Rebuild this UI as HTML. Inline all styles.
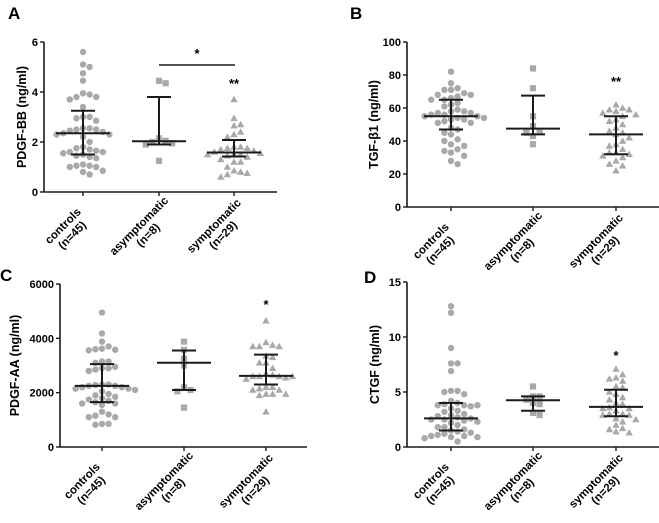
<!DOCTYPE html>
<html><head><meta charset="utf-8"><style>
html,body{margin:0;padding:0;background:#fff;}
svg{display:block;font-family:"Liberation Sans",Arial,sans-serif;}
</style></head><body>
<svg id="fig" width="659" height="523" viewBox="0 0 659 523"></svg>
<script>
// ---- data ----
const categories = ["controls", "asymptomatic", "symptomatic"];
const counts = ["(n=45)", "(n=8)", "(n=29)"];

const aControls = [5.6,5.1,5.0,4.75,4.45,3.95,3.9,3.8,3.8,3.7,3.4,3.0,3.0,2.95,2.85,2.55,2.55,2.5,2.5,2.45,2.4,2.35,2.3,2.3,2.2,2.0,1.8,1.75,1.7,1.65,1.6,1.6,1.55,1.5,1.45,1.4,1.35,1.1,1.05,1.05,1.0,1.0,0.85,0.8,0.7];
const aAsymp = [4.45,4.35,2.15,2.05,2.0,1.95,1.9,1.25];
const aSymp = [3.7,2.95,2.7,2.65,2.4,2.3,2.2,1.8,1.8,1.75,1.75,1.7,1.65,1.6,1.55,1.5,1.5,1.5,1.45,1.4,1.3,1.2,1.2,1.0,0.85,0.8,0.75,0.7,0.6];
const aMedian = [2.35,2.03,1.58];
const aQ1 = [1.5,1.9,1.42];
const aQ3 = [3.25,3.8,2.08];
const aTicks = [0,2,4,6];

const bControls = [82,75,72,71,71,69,68,68,67,66,65,65,63,62,61,59,58,58,57,57,56,56,55,55,54,54,53,53,52,51,51,48,47,45,44,41,40,38,37,35,34,33,31,28,26];
const bAsymp = [84,72,55,49,46,45,43,38];
const bSymp = [62,60,59,59,58,57,56,55,53,52,50,48,46,45,44,42,40,38,37,35,33,33,32,31,30,28,26,25,22];
const bMedian = [55,47.5,44];
const bQ1 = [47,44,32];
const bQ3 = [65,67.5,55];
const bTicks = [0,20,40,60,80,100];

const cControls = [4950,4180,3880,3700,3620,3580,3560,3600,3150,3150,3100,2950,2900,2900,2850,2800,2300,2300,2280,2250,2250,2200,2200,2150,2150,2100,2050,1950,1900,1850,1800,1750,1700,1650,1600,1600,1550,1300,1200,1150,1100,1100,850,850,820];
const cAsymp = [3880,3580,3250,3000,2200,2100,2050,1450];
const cSymp = [4650,3850,3700,3700,3700,3750,3350,3300,3100,3100,2900,2700,2650,2600,2600,2600,2600,2550,2500,2200,2200,2150,2100,2100,1950,1950,1950,1900,1300];
const cMedian = [2250,3100,2620];
const cQ1 = [1650,2100,2300];
const cQ3 = [3050,3550,3400];
const cTicks = [0,2000,4000,6000];

const dControls = [12.8,12.2,9.0,7.6,7.6,6.9,5.1,5.0,5.1,4.8,4.2,4.0,3.9,3.8,3.8,3.8,3.7,3.5,3.3,3.2,3.0,2.9,2.8,2.7,2.6,2.5,2.5,2.4,2.3,2.2,2.0,1.8,1.8,1.6,1.5,1.4,1.3,1.2,1.1,1.0,1.0,0.9,0.9,0.8,0.5];
const dAsymp = [5.5,4.6,4.6,4.3,4.0,3.9,3.1,2.9];
const dSymp = [7.1,6.6,6.3,6.2,6.0,5.5,5.4,5.0,4.8,4.5,4.3,4.0,3.9,3.6,3.5,3.5,3.3,3.0,3.0,2.9,2.9,2.6,2.5,2.3,2.0,1.7,1.6,1.4,1.3];
const dMedian = [2.6,4.25,3.65];
const dQ1 = [1.5,3.3,2.8];
const dQ3 = [4.0,4.6,5.2];
const dTicks = [0,5,10,15];

// ---- drawing ----
const NS = "http://www.w3.org/2000/svg";
const svg = document.getElementById("fig");
function mk(tag, attrs, parent) {
  const e = document.createElementNS(NS, tag);
  for (const k in attrs) e.setAttribute(k, attrs[k]);
  (parent || svg).appendChild(e);
  return e;
}
const PT = "#a9a9a9", INK = "#1a1a1a";

function panel(cfg) {
  const g = mk("g", {});
  
  
  const yS = v => cfg.y0 - (v - cfg.min) / (cfg.max - cfg.min) * (cfg.y0 - cfg.y1);
  const xS = i => cfg.cx[i];
  const L = mk("text", {x: cfg.lx, y: cfg.ly, "font-size": 17, "font-weight": "bold", fill: "#000"}, g);
  L.textContent = cfg.letter;
  
  
  const ya = mk("line", {x1: cfg.ax, x2: cfg.ax, y1: cfg.y1, y2: cfg.y0, stroke: INK, "stroke-width": 1.6}, g);
  
  
  const xa = mk("line", {x1: cfg.ax, x2: cfg.axEnd, y1: cfg.y0, y2: cfg.y0, stroke: INK, "stroke-width": 1.6}, g);
  
  
  cfg.ticks.forEach(t => {
    const y = yS(t);
    mk("line", {x1: cfg.ax - 4, x2: cfg.ax, y1: y, y2: y, stroke: INK, "stroke-width": 1.4}, g);
    const tx = mk("text", {x: cfg.ax - 6, y: y + 4, "font-size": 11, "font-weight": "bold", "text-anchor": "end"}, g);
    tx.textContent = t;
    
    
  });
  const yt = mk("text", {transform: `translate(${cfg.tx},${(cfg.y0 + cfg.y1) / 2}) rotate(-90)`, "font-size": 12.5, "font-weight": "bold", "text-anchor": "middle"}, g);
  yt.textContent = cfg.title;
  
  
  categories.forEach((c, i) => {
    const x = xS(i);
    mk("line", {x1: x, x2: x, y1: cfg.y0, y2: cfg.y0 + 4, stroke: INK, "stroke-width": 1.4}, g);
    const cg = mk("g", {transform: `translate(${x - 16},${cfg.y0 + 38}) rotate(-45)`}, g);
    
    
    const t1 = mk("text", {x: 0, y: -2, "font-size": 11.5, "font-weight": "bold", "text-anchor": "middle"}, cg);
    t1.textContent = c;
    const t2 = mk("text", {x: 0, y: 11, "font-size": 11.5, "font-weight": "bold", "text-anchor": "middle"}, cg);
    t2.textContent = counts[i];
  });
  const shapes = ["circle", "square", "triangle"];
  cfg.groups.forEach((vals, gi) => {
    const placed = [];
    const d = 6.6;
    const sorted = vals.slice().sort((a, b) => b - a);
    sorted.forEach(v => {
      const y = yS(v);
      let off = 0;
      for (let k = 0; k < 40; k++) {
        const cand = k === 0 ? 0 : (k % 2 ? 1 : -1) * Math.ceil(k / 2) * d;
        if (placed.every(p => Math.hypot(p[0] - cand, p[1] - y) >= d)) { off = cand; break; }
      }
      placed.push([off, y]);
      const x = xS(gi) + off;
      let m;
      if (shapes[gi] === "circle") m = mk("circle", {cx: x, cy: y, r: 3.2, fill: PT}, g);
      else if (shapes[gi] === "square") m = mk("rect", {x: x - 3.1, y: y - 3.1, width: 6.2, height: 6.2, fill: PT}, g);
      else m = mk("polygon", {points: `${x},${y - 3.7} ${x - 3.7},${y + 2.8} ${x + 3.7},${y + 2.8}`, fill: PT}, g);
      
      
    });
    const x = xS(gi);
    const mg = mk("g", {stroke: INK, "stroke-width": 2}, g);
    
    
    mk("line", {x1: x - 27, x2: x + 27, y1: yS(cfg.med[gi]), y2: yS(cfg.med[gi])}, mg);
    mk("line", {x1: x, x2: x, y1: yS(cfg.q1[gi]), y2: yS(cfg.q3[gi])}, mg);
    mk("line", {x1: x - 12, x2: x + 12, y1: yS(cfg.q1[gi]), y2: yS(cfg.q1[gi])}, mg);
    mk("line", {x1: x - 12, x2: x + 12, y1: yS(cfg.q3[gi]), y2: yS(cfg.q3[gi])}, mg);
  });
  cfg.sig.forEach(s => {
    const t = mk("text", {x: s.x, y: s.y, "font-size": 13, "font-weight": "bold", "text-anchor": "middle"}, g);
    t.textContent = s.t;
    
    
  });
  if (cfg.bar) {
    const b = mk("line", {x1: cfg.bar[0], x2: cfg.bar[1], y1: cfg.bar[2], y2: cfg.bar[2], stroke: INK, "stroke-width": 1.5}, g);
    
    
  }
}

panel({letter: "A", lx: 8, ly: 19, ax: 44, axEnd: 277, y0: 192, y1: 42, min: 0, max: 6, ticks: aTicks, tx: 26,
  title: "PDGF-BB (ng/ml)", cx: [83, 159, 234], groups: [aControls, aAsymp, aSymp], med: aMedian, q1: aQ1, q3: aQ3,
  sig: [{x: 197, y: 58, t: "*"}, {x: 234, y: 88, t: "**"}], bar: [159, 235, 65]});
panel({letter: "B", lx: 350, ly: 19, ax: 407, axEnd: 659, y0: 207, y1: 42, min: 0, max: 100, ticks: bTicks, tx: 378,
  title: "TGF-β1 (ng/ml)", cx: [451, 533, 616], groups: [bControls, bAsymp, bSymp], med: bMedian, q1: bQ1, q3: bQ3,
  sig: [{x: 616, y: 86, t: "**"}]});
panel({letter: "C", lx: 0, ly: 281, ax: 60, axEnd: 307, y0: 447, y1: 284, min: 0, max: 6000, ticks: cTicks, tx: 19,
  title: "PDGF-AA (ng/ml)", cx: [102, 184, 266], groups: [cControls, cAsymp, cSymp], med: cMedian, q1: cQ1, q3: cQ3,
  sig: [{x: 266, y: 309, t: "*"}]});
panel({letter: "D", lx: 364, ly: 283, ax: 407, axEnd: 659, y0: 447, y1: 282, min: 0, max: 15, ticks: dTicks, tx: 379,
  title: "CTGF (ng/ml)", cx: [451, 533, 616], groups: [dControls, dAsymp, dSymp], med: dMedian, q1: dQ1, q3: dQ3,
  sig: [{x: 616, y: 360, t: "*"}]});
</script>
</body></html>
